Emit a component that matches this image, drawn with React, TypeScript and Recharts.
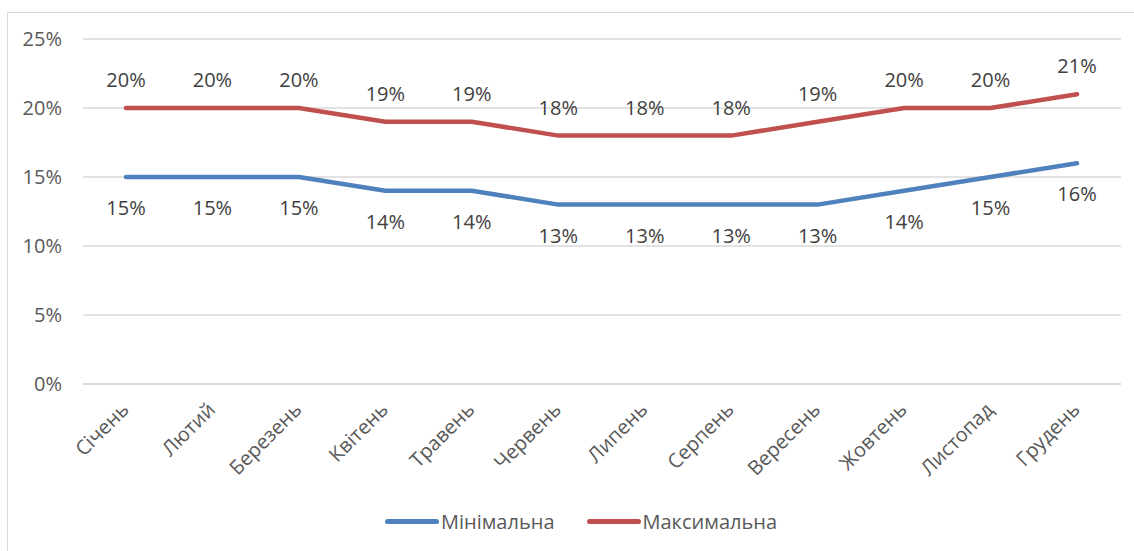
import React from 'react';
import { LineChart, Line, XAxis, YAxis, CartesianGrid, Legend, LabelList } from 'recharts';

const months = ['Січень', 'Лютий', 'Березень', 'Квітень', 'Травень', 'Червень', 'Липень', 'Серпень', 'Вересень', 'Жовтень', 'Листопад', 'Грудень'];
const minValues = [15, 15, 15, 14, 14, 13, 13, 13, 13, 14, 15, 16];
const maxValues = [20, 20, 20, 19, 19, 18, 18, 18, 19, 20, 20, 21];
const yTicks = [0, 5, 10, 15, 20, 25];

const FONT = '"Open Sans", "Liberation Sans", sans-serif';

const data = months.map((m, i) => ({ month: m, min: minValues[i], max: maxValues[i] }));

const MonthTick = (props: any) => {
  const { x, y, payload } = props;
  return (
    <g transform={`translate(${x + 4},${y + 19})`}>
      <text transform="rotate(-45)" textAnchor="end" fill="#595959" fontSize={20} fontFamily={FONT}>
        {payload.value}
      </text>
    </g>
  );
};

const LegendContent = () => (
  <div style={{ display: 'flex', justifyContent: 'center', alignItems: 'center', paddingTop: 24, paddingLeft: 18, fontFamily: FONT, fontSize: 20, color: '#595959' }}>
    <span style={{ display: 'inline-block', width: 54, height: 5, borderRadius: 3, background: '#4f81bd', marginRight: 2 }} />
    <span style={{ marginRight: 32 }}>Мінімальна</span>
    <span style={{ display: 'inline-block', width: 54, height: 5, borderRadius: 3, background: '#c0504d', marginRight: 2 }} />
    <span>Максимальна</span>
  </div>
);

const App = () => {
  return (
    <div style={{ position: 'absolute', left: 0, top: 0, width: 1134, height: 551, background: '#fff' }}>
      <div style={{ position: 'absolute', left: 7, top: 12, width: 1140, height: 560, border: '1px solid #d9d9d9' }} />
      <LineChart width={1134} height={551} data={data} margin={{ top: 39, right: 13, left: 23, bottom: 0 }}>
        <CartesianGrid vertical={false} stroke="#d9d9d9" strokeWidth={1.3} />
        <XAxis
          dataKey="month"
          axisLine={{ stroke: '#d9d9d9', strokeWidth: 1.3 }}
          tickLine={false}
          height={100}
          interval={0}
          padding={{ left: 43, right: 44 }}
          tick={<MonthTick />}
        />
        <YAxis
          domain={[0, 25]}
          ticks={yTicks}
          width={60}
          axisLine={false}
          tickLine={false}
          tickSize={0}
          tickMargin={21}
          tickFormatter={(v: number) => `${v}%`}
          tick={{ fill: '#595959', fontSize: 20, fontFamily: FONT }}
        />
        <Legend verticalAlign="bottom" height={67} content={<LegendContent />} />
        <Line type="linear" dataKey="min" stroke="#4f81bd" strokeWidth={4.5} strokeLinecap="round" dot={false} isAnimationActive={false}>
          <LabelList dataKey="min" position="bottom" offset={24} formatter={(v: any) => `${v}%`} fill="#404040" fontSize={20} fontFamily={FONT} />
        </Line>
        <Line type="linear" dataKey="max" stroke="#c0504d" strokeWidth={4.5} strokeLinecap="round" dot={false} isAnimationActive={false}>
          <LabelList dataKey="max" position="top" offset={21} formatter={(v: any) => `${v}%`} fill="#404040" fontSize={20} fontFamily={FONT} />
        </Line>
      </LineChart>
    </div>
  );
};

export default App;
